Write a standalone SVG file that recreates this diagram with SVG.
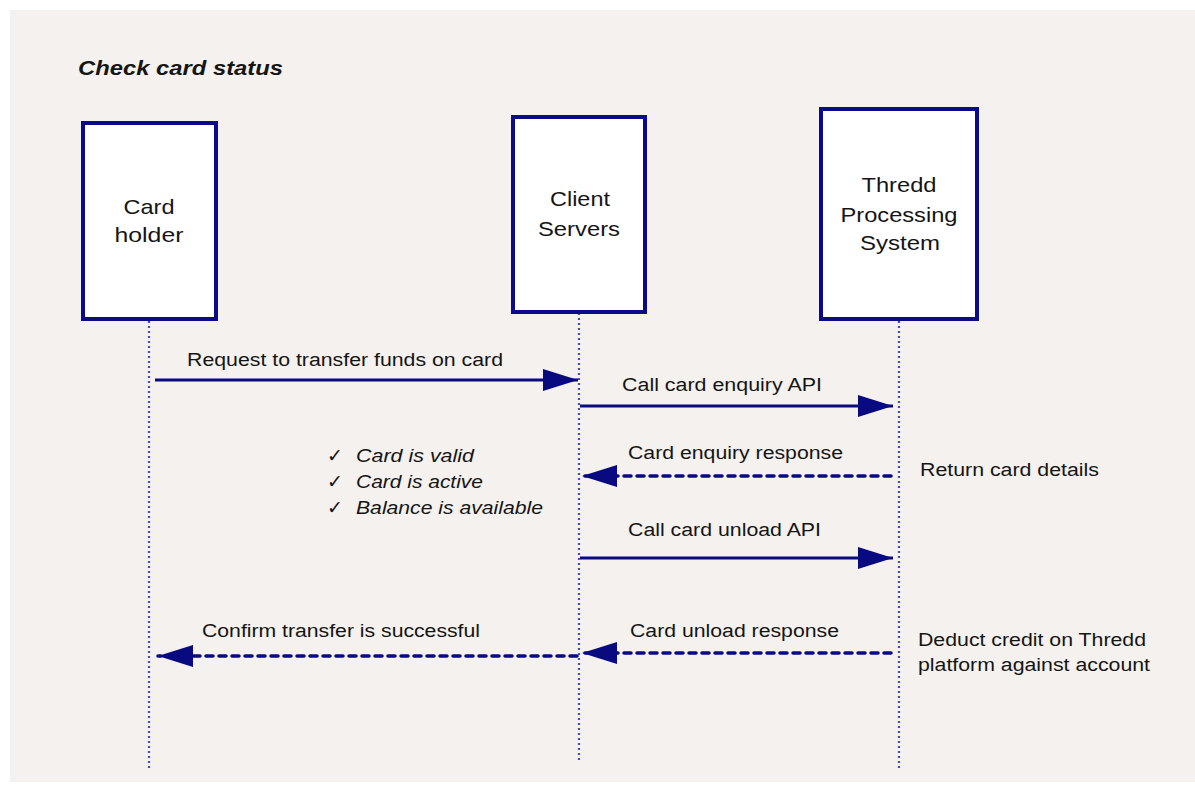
<svg xmlns="http://www.w3.org/2000/svg" width="1195" height="789" viewBox="0 0 1195 789">
<defs>
<style>
.t{font-family:"Liberation Sans",Arial,sans-serif;font-size:18px;fill:#151515}
.n{font-family:"Liberation Sans",Arial,sans-serif;font-size:21px;fill:#151515;text-anchor:middle}
.i{font-style:italic}
.ck{font-family:"Liberation Sans",Arial,sans-serif;font-size:19px;fill:#151515}
.box{fill:#fff;stroke:#0a0a8a;stroke-width:4}
.life{stroke:#4a4ab8;stroke-width:2.2;stroke-dasharray:2 3;fill:none}
.msg{stroke:#0a0a80;stroke-width:3;fill:none}
.dash{stroke-dasharray:7 6;stroke-linecap:round;stroke-width:3.5}
</style>
<marker id="ah" markerWidth="36" markerHeight="22" refX="35" refY="11" orient="auto" markerUnits="userSpaceOnUse">
<path d="M0,0 L35,11 L0,22 Z" fill="#0a0a80"/>
</marker>
</defs>
<rect x="0" y="0" width="1195" height="789" fill="#fff"/>
<rect x="10" y="10" width="1185" height="772" fill="#f4f1ee"/>
<text x="78" y="75" class="t" style="font-size:20px;font-weight:bold;font-style:italic" textLength="205" lengthAdjust="spacingAndGlyphs">Check card status</text>
<g id="lifelines">
<line class="life" x1="149" y1="321" x2="149" y2="770"/>
<line class="life" x1="579" y1="313" x2="579" y2="763"/>
<line class="life" x1="899" y1="321" x2="899" y2="768"/>
</g>
<g id="cardholder">
<rect class="box" x="83" y="123" width="133" height="196"/>
<text class="n" x="149" y="214" textLength="51" lengthAdjust="spacingAndGlyphs">Card</text>
<text class="n" x="149" y="242" textLength="69" lengthAdjust="spacingAndGlyphs">holder</text>
</g>
<g id="clientservers">
<rect class="box" x="513" y="117" width="132" height="195"/>
<text class="n" x="580" y="206" textLength="60" lengthAdjust="spacingAndGlyphs">Client</text>
<text class="n" x="579" y="236" textLength="82" lengthAdjust="spacingAndGlyphs">Servers</text>
</g>
<g id="thredd">
<rect class="box" x="821" y="109" width="156" height="210"/>
<text class="n" x="899" y="192" textLength="75" lengthAdjust="spacingAndGlyphs">Thredd</text>
<text class="n" x="899" y="222" textLength="117" lengthAdjust="spacingAndGlyphs">Processing</text>
<text class="n" x="900" y="250" textLength="80" lengthAdjust="spacingAndGlyphs">System</text>
</g>
<g id="connectors">
<line class="msg" x1="155" y1="380" x2="578" y2="380" marker-end="url(#ah)"/>
<text class="t" x="187" y="366" textLength="316" lengthAdjust="spacingAndGlyphs">Request to transfer funds on card</text>
<line class="msg" x1="580" y1="406" x2="893" y2="406" marker-end="url(#ah)"/>
<text class="t" x="622" y="391" textLength="200" lengthAdjust="spacingAndGlyphs">Call card enquiry API</text>
<line class="msg dash" x1="891" y1="476" x2="582" y2="476" marker-end="url(#ah)"/>
<text class="t" x="628" y="459" textLength="215" lengthAdjust="spacingAndGlyphs">Card enquiry response</text>
<line class="msg" x1="580" y1="558" x2="893" y2="558" marker-end="url(#ah)"/>
<text class="t" x="628" y="536" textLength="193" lengthAdjust="spacingAndGlyphs">Call card unload API</text>
<line class="msg dash" x1="891" y1="653" x2="582" y2="653" marker-end="url(#ah)"/>
<text class="t" x="630" y="637" textLength="209" lengthAdjust="spacingAndGlyphs">Card unload response</text>
<line class="msg dash" x1="577" y1="656" x2="158" y2="656" marker-end="url(#ah)"/>
<text class="t" x="202" y="637" textLength="278" lengthAdjust="spacingAndGlyphs">Confirm transfer is successful</text>
</g>
<g id="notes">
<text class="ck" x="327" y="462">✓</text>
<text class="t i" x="356" y="462" textLength="118" lengthAdjust="spacingAndGlyphs">Card is valid</text>
<text class="ck" x="327" y="488">✓</text>
<text class="t i" x="356" y="488" textLength="127" lengthAdjust="spacingAndGlyphs">Card is active</text>
<text class="ck" x="327" y="514">✓</text>
<text class="t i" x="356" y="514" textLength="187" lengthAdjust="spacingAndGlyphs">Balance is available</text>
<text class="t" x="920" y="476" textLength="179" lengthAdjust="spacingAndGlyphs">Return card details</text>
<text class="t" x="918" y="646" textLength="228" lengthAdjust="spacingAndGlyphs">Deduct credit on Thredd</text>
<text class="t" x="918" y="671" textLength="232" lengthAdjust="spacingAndGlyphs">platform against account</text>
</g>
</svg>
